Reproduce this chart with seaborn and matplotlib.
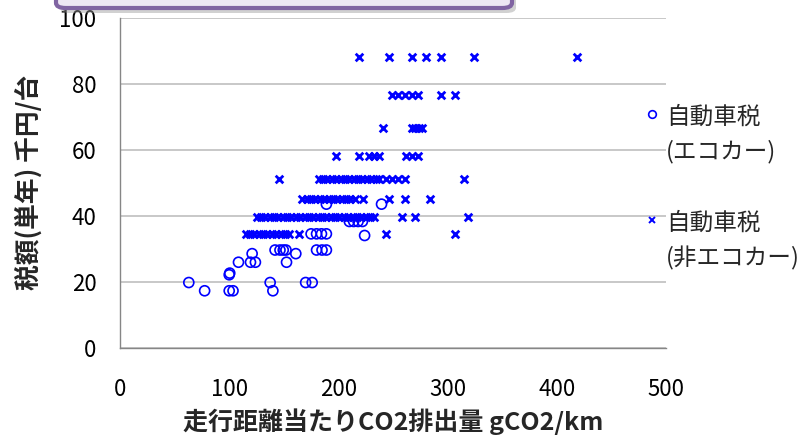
import matplotlib
matplotlib.use("Agg")
import matplotlib.pyplot as plt
import seaborn as sns
from matplotlib.lines import Line2D
from matplotlib.patches import FancyBboxPatch
from matplotlib.legend_handler import HandlerLine2D

# --- data ---
eco_co2 = [63, 77.5, 100, 100.5, 100, 103.5, 108.5, 119.5, 124, 121,
           137.5, 140, 142, 146.5, 149.5, 152, 152.5, 161, 170, 176,
           180, 185, 189, 175, 180, 184.5, 189, 224, 210, 214,
           218, 222, 189, 239.5]
eco_tax = [19.75, 17.25, 22.1, 22.6, 17.25, 17.25, 25.9, 25.9, 25.9, 28.5,
           19.75, 17.25, 29.6, 29.6, 29.6, 29.6, 25.9, 28.5, 19.75, 19.75,
           29.6, 29.6, 29.6, 34.5, 34.5, 34.5, 34.5, 34.0, 38.25, 38.25,
           38.25, 38.25, 43.5, 43.5]

non_co2 = [219, 246, 267, 280, 294, 324, 418.5,
           249, 255, 261, 267, 273, 294, 307,
           241, 267, 270, 274, 277,
           198, 219, 228, 233, 237, 262, 267, 273,
           145.5, 182, 186, 190, 194, 198, 202, 206, 210, 214, 218, 222,
           226, 230, 234, 237, 243.5, 249, 255, 261, 315,
           167, 171, 175, 179, 183, 187, 191, 195, 199, 203, 207, 211, 215,
           222.5, 246, 261, 284,
           125, 129, 133, 137, 141, 145, 149, 153, 157, 161, 165, 169, 173,
           177, 181, 185, 189, 193, 197, 201, 205, 209, 213, 217, 221, 225,
           229, 233, 258, 270, 318.5,
           115, 119, 123, 127, 131, 135, 139, 143, 147, 151, 155, 164, 243.5, 307]
non_tax = ([88] * 7 + [76.5] * 7 + [66.5] * 5 + [58] * 8 + [51] * 21
           + [45] * 17 + [39.5] * 31 + [34.5] * 14)

x_ticks = [0, 100, 200, 300, 400, 500]
y_ticks = [0, 20, 40, 60, 80, 100]
x_label = "走行距離当たりCO2排出量 gCO2/km"
y_label = "税額(単年) 千円/台"
eco_label = "自動車税\n(エコカー)"
non_label = "自動車税\n(非エコカー)"

BLUE = "#0000FF"
AXIS_GRAY = "#868686"
GRID_GRAY = "#C8C8C8"

sns.set_style("white")
plt.rcParams["font.family"] = ["Noto Sans CJK JP", "DejaVu Sans"]


class FirstLineHandler(HandlerLine2D):
    """Put the legend marker next to the first line of a 2-line label."""
    def __init__(self, shift, **kw):
        super().__init__(**kw)
        self.shift = shift

    def create_artists(self, legend, orig_handle, xdescent, ydescent,
                       width, height, fontsize, trans):
        artists = super().create_artists(legend, orig_handle, xdescent, ydescent,
                                         width, height, fontsize, trans)
        for a in artists:
            a.set_ydata([y + self.shift for y in a.get_ydata()])
        return artists


fig = plt.figure(figsize=(8.09, 4.38), dpi=100)

# purple title box cut off at the top, with a soft shadow
shadow = FancyBboxPatch((60 / 809, (438 - 13) / 438), 456 / 809, 0.2,
                        boxstyle="round,pad=0,rounding_size=0.012",
                        transform=fig.transFigure, facecolor="#9A9A9A",
                        edgecolor="none", alpha=0.45, zorder=0)
box = FancyBboxPatch((56 / 809, (438 - 8) / 438), 456 / 809, 0.2,
                     boxstyle="round,pad=0,rounding_size=0.012",
                     transform=fig.transFigure, facecolor="#EDE7F3",
                     edgecolor="#8064A2", linewidth=3, zorder=1)
fig.patches.extend([shadow, box])

ax = fig.add_axes([120 / 809, 1 - 347.7 / 438, 546 / 809, 330 / 438])

sns.scatterplot(x=eco_co2, y=eco_tax, ax=ax, marker="o", s=52,
                facecolors="none", edgecolor=BLUE, linewidth=1.2, zorder=3)
sns.scatterplot(x=non_co2, y=non_tax, ax=ax, marker="x", s=30,
                color=BLUE, linewidth=2.0, zorder=3)

ax.set_xlim(0, 500)
ax.set_ylim(0, 100)
ax.set_xticks(x_ticks)
ax.set_yticks(y_ticks)
ax.grid(axis="y", color=GRID_GRAY, linewidth=1.4)
ax.grid(axis="x", visible=False)
ax.set_axisbelow(True)
for side in ["top", "right"]:
    ax.spines[side].set_visible(False)
for side in ["left", "bottom"]:
    ax.spines[side].set_color(AXIS_GRAY)
    ax.spines[side].set_linewidth(1.0)
ax.tick_params(axis="both", direction="out", length=7, width=1.0,
               color=AXIS_GRAY, labelsize=16, labelcolor="black")
ax.tick_params(axis="x", pad=15)
ax.tick_params(axis="y", pad=10)

ax.set_xlabel(x_label, fontsize=18, fontweight="bold", labelpad=5)
ax.set_ylabel(y_label, fontsize=18.5, fontweight="bold", labelpad=12)

handles = [
    Line2D([], [], marker="o", linestyle="none", markerfacecolor="none",
           markeredgecolor=BLUE, markersize=5.5, markeredgewidth=1.2),
    Line2D([], [], marker="x", linestyle="none", color=BLUE,
           markersize=4, markeredgewidth=1.4),
]
leg = ax.legend(handles, [eco_label, non_label], loc="upper left",
                bbox_to_anchor=(633 / 809, (438 - 96) / 438),
                bbox_transform=fig.transFigure, frameon=False,
                fontsize=17, handlelength=0.8, handletextpad=0.2,
                labelspacing=2.05, borderaxespad=0,
                handler_map={h: FirstLineHandler(shift=15.5) for h in handles})
for t in leg.get_texts():
    t.set_linespacing(1.6)

fig.savefig("out.png", dpi=100)
